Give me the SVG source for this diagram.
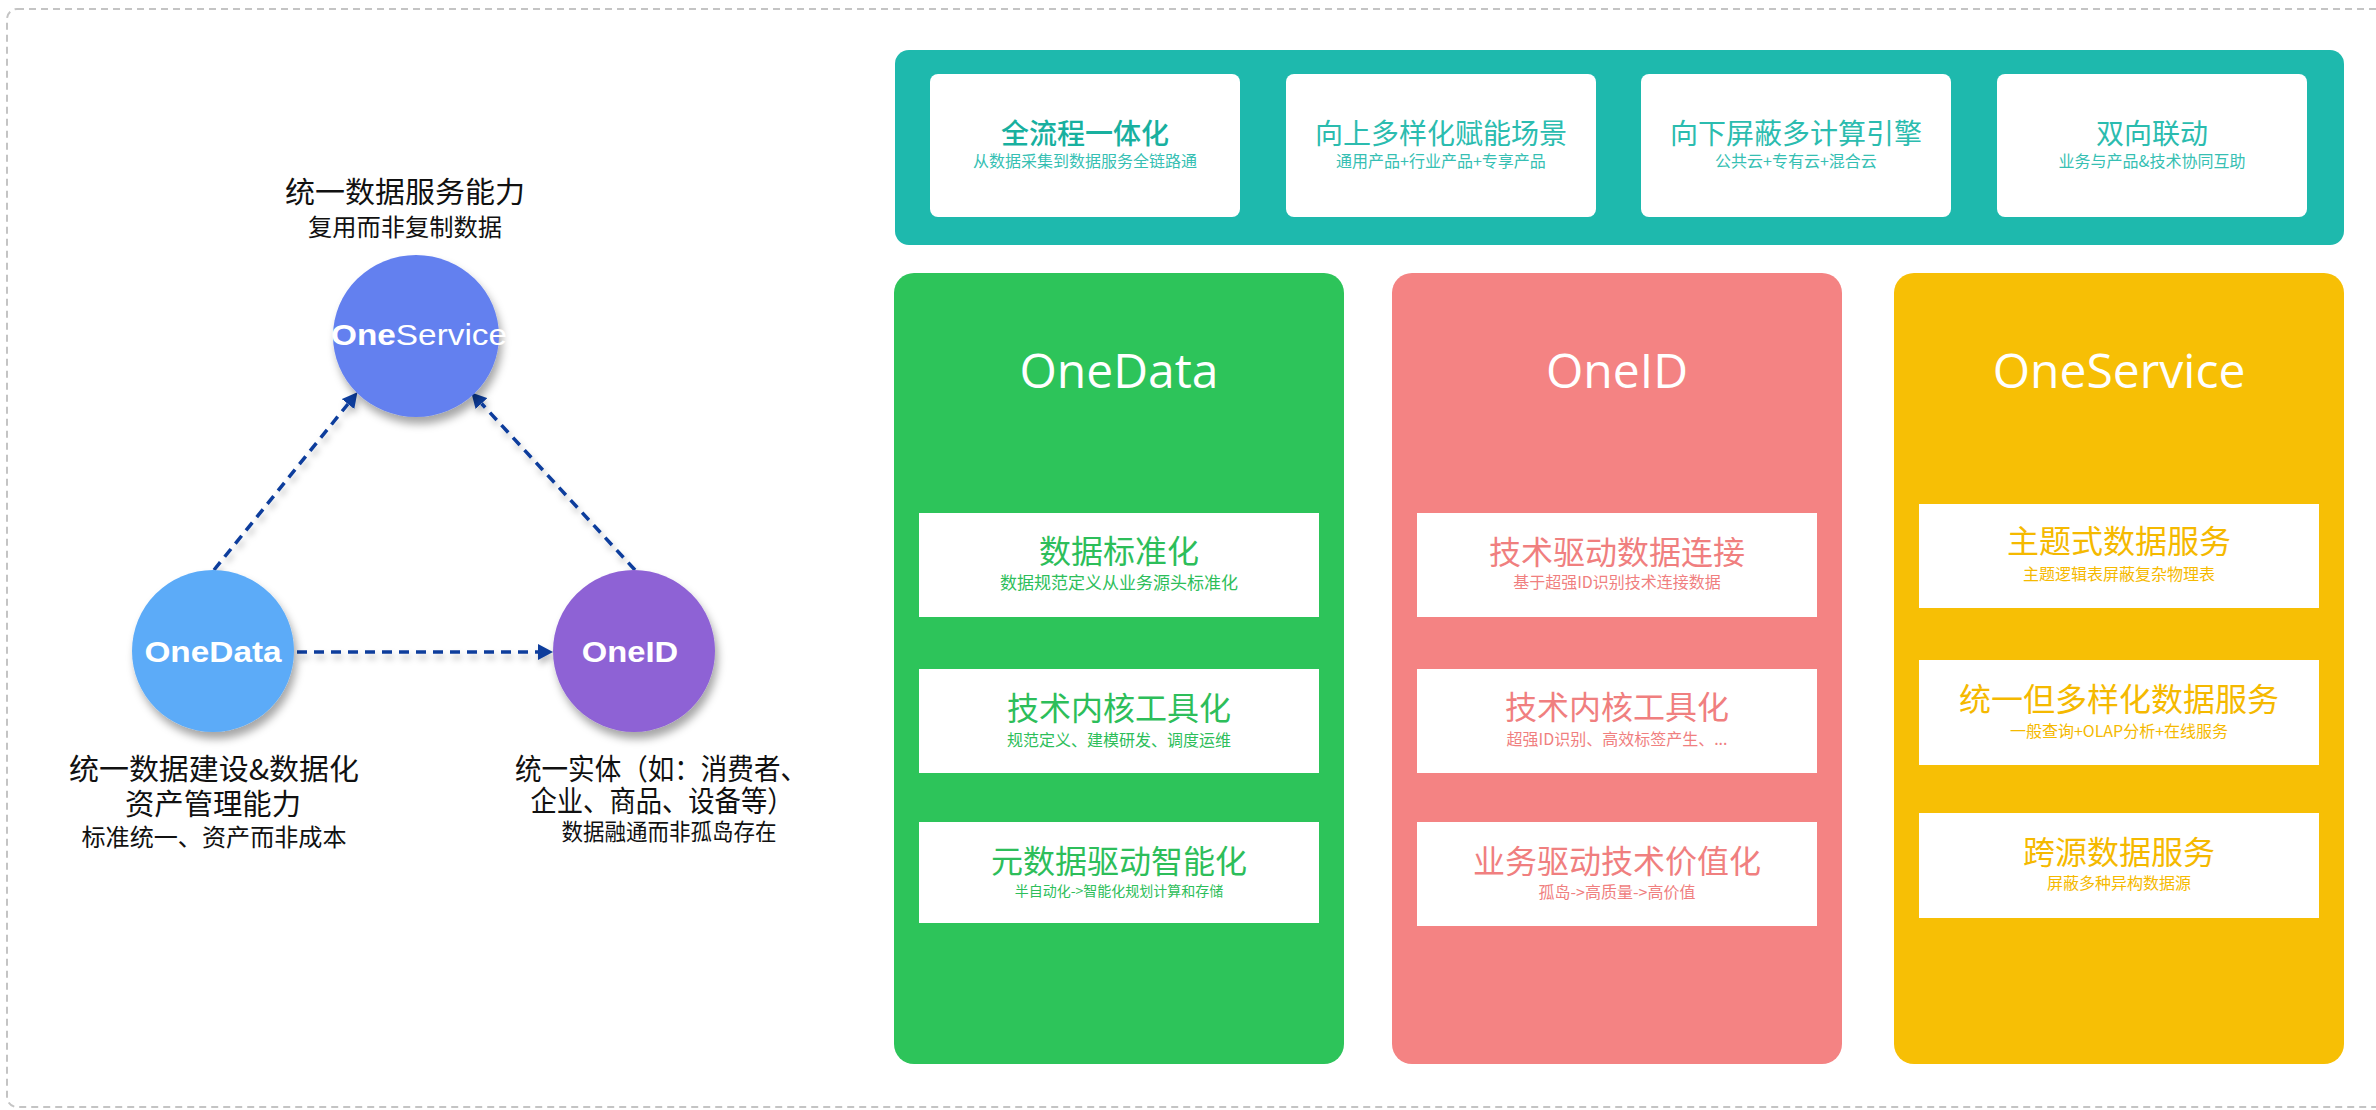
<svg xmlns="http://www.w3.org/2000/svg" width="2376" height="1110" viewBox="0 0 2376 1110">
<defs>
<style>
.lbl{font-family:"Noto Sans CJK SC","Noto Sans",sans-serif;fill:#111;text-anchor:middle;}
.ctitle{font-family:"Noto Sans CJK SC",sans-serif;font-size:28px;text-anchor:middle;fill:#2BBCAF;}
.csub{font-family:"Noto Sans CJK SC",sans-serif;font-size:16px;text-anchor:middle;fill:#36BFB3;}
.ptitle{font-family:"Open Sans","Noto Sans",sans-serif;font-size:48px;fill:#fff;text-anchor:middle;}
.btitle{font-family:"Noto Sans CJK SC",sans-serif;font-size:32px;text-anchor:middle;}
.bsub{font-family:"Noto Sans CJK SC",sans-serif;font-size:16px;text-anchor:middle;}
.g{fill:#2DBE5A;} .p{fill:#F07F7F;} .y{fill:#F5B900;}
.circ{font-family:"Liberation Sans",Arial,sans-serif;fill:#fff;text-anchor:middle;font-size:29px;}
.conn{fill:none;stroke:#0A3C9C;stroke-width:3.5;stroke-dasharray:10 7;}
</style>
<filter id="sh" x="-30%" y="-30%" width="160%" height="170%">
<feDropShadow dx="3" dy="7" stdDeviation="4" flood-color="#000" flood-opacity="0.35"/>
</filter>
<filter id="lsh" x="-20%" y="-20%" width="140%" height="140%">
<feDropShadow dx="2" dy="5" stdDeviation="3" flood-color="#000" flood-opacity="0.25"/>
</filter>
<marker id="arr" markerUnits="userSpaceOnUse" markerWidth="16" markerHeight="16" refX="0" refY="8" orient="auto">
<path d="M0,0 L15,8 L0,16 z" fill="#0A3C9C"/>
</marker>
</defs>
<rect x="0" y="0" width="2376" height="1110" fill="#fff"/>
<rect x="7" y="9" width="2392" height="1098" rx="10" fill="none" stroke="#C4C4C4" stroke-width="2" stroke-dasharray="7 5"/>

<g id="connectors" filter="url(#lsh)">
<path class="conn" d="M214,570 L348,404" marker-end="url(#arr)"/>
<path class="conn" d="M635,570 L481.5,403.5" marker-end="url(#arr)"/>
<path class="conn" d="M297,652 L538,652" marker-end="url(#arr)"/>
</g>

<g id="node-oneservice-circle">
<ellipse cx="416" cy="336" rx="83" ry="81" fill="#6480EF" filter="url(#sh)"/>
<text class="circ" transform="translate(419,345) scale(1.15,1)" font-size="25"><tspan font-weight="bold">One</tspan><tspan>Service</tspan></text>
<text class="lbl" x="405" y="203" font-size="29" textLength="240" lengthAdjust="spacingAndGlyphs">统一数据服务能力</text>
<text class="lbl" x="405" y="236" font-size="24" textLength="194" lengthAdjust="spacingAndGlyphs">复用而非复制数据</text>
</g>

<g id="node-onedata-circle">
<ellipse cx="213" cy="651" rx="81" ry="81" fill="#5CABF8" filter="url(#sh)"/>
<text class="circ" transform="translate(213,662) scale(1.15,1)" font-weight="bold">OneData</text>
<text class="lbl" x="214" y="780" font-size="29" textLength="290" lengthAdjust="spacingAndGlyphs">统一数据建设&amp;数据化</text>
<text class="lbl" x="213" y="815" font-size="29" textLength="176" lengthAdjust="spacingAndGlyphs">资产管理能力</text>
<text class="lbl" x="214" y="846" font-size="24" textLength="265" lengthAdjust="spacingAndGlyphs">标准统一、资产而非成本</text>
</g>

<g id="node-oneid-circle">
<ellipse cx="634" cy="651" rx="81" ry="81" fill="#8E62D5" filter="url(#sh)"/>
<text class="circ" transform="translate(630,662) scale(1.13,1)" font-weight="bold">OneID</text>
<text class="lbl" x="661" y="780" font-size="29" textLength="292" lengthAdjust="spacingAndGlyphs">统一实体（如：消费者、</text>
<text class="lbl" x="662" y="812" font-size="29" textLength="263" lengthAdjust="spacingAndGlyphs">企业、商品、设备等）</text>
<text class="lbl" x="669" y="840" font-size="23" textLength="215" lengthAdjust="spacingAndGlyphs">数据融通而非孤岛存在</text>
</g>

<g id="node-top-panel">
<rect x="895" y="50" width="1449" height="195" rx="14" fill="#1EB9AD"/>
<rect x="930" y="74" width="310" height="143" rx="8" fill="#fff"/>
<rect x="1286" y="74" width="310" height="143" rx="8" fill="#fff"/>
<rect x="1641" y="74" width="310" height="143" rx="8" fill="#fff"/>
<rect x="1997" y="74" width="310" height="143" rx="8" fill="#fff"/>
<text class="ctitle" x="1085" y="144" style="fill:#18B09F;font-weight:500">全流程一体化</text>
<text class="csub" x="1085" y="167">从数据采集到数据服务全链路通</text>
<text class="ctitle" x="1441" y="144">向上多样化赋能场景</text>
<text class="csub" x="1441" y="167">通用产品+行业产品+专享产品</text>
<text class="ctitle" x="1796" y="144">向下屏蔽多计算引擎</text>
<text class="csub" x="1796" y="167">公共云+专有云+混合云</text>
<text class="ctitle" x="2152" y="144">双向联动</text>
<text class="csub" x="2152" y="167">业务与产品&amp;技术协同互助</text>
</g>

<g id="node-onedata-panel">
<rect x="894" y="273" width="450" height="791" rx="20" fill="#2DC45A"/>
<text class="ptitle" x="1119" y="388">OneData</text>
<rect x="919" y="513" width="400" height="104" fill="#fff"/>
<text class="btitle g" x="1119" y="563">数据标准化</text>
<text class="bsub g" x="1119" y="589" style="font-size:17px">数据规范定义从业务源头标准化</text>
<rect x="919" y="669" width="400" height="104" fill="#fff"/>
<text class="btitle g" x="1119" y="720">技术内核工具化</text>
<text class="bsub g" x="1119" y="746">规范定义、建模研发、调度运维</text>
<rect x="919" y="822" width="400" height="101" fill="#fff"/>
<text class="btitle g" x="1119" y="873">元数据驱动智能化</text>
<text class="bsub g" x="1119" y="896" style="font-size:14px">半自动化-&gt;智能化规划计算和存储</text>
</g>

<g id="node-oneid-panel">
<rect x="1392" y="273" width="450" height="791" rx="20" fill="#F48383"/>
<text class="ptitle" x="1617" y="388">OneID</text>
<rect x="1417" y="513" width="400" height="104" fill="#fff"/>
<text class="btitle p" x="1617" y="564">技术驱动数据连接</text>
<text class="bsub p" x="1617" y="588">基于超强ID识别技术连接数据</text>
<rect x="1417" y="669" width="400" height="104" fill="#fff"/>
<text class="btitle p" x="1617" y="719">技术内核工具化</text>
<text class="bsub p" x="1617" y="745">超强ID识别、高效标签产生、...</text>
<rect x="1417" y="822" width="400" height="104" fill="#fff"/>
<text class="btitle p" x="1617" y="873">业务驱动技术价值化</text>
<text class="bsub p" x="1617" y="898">孤岛-&gt;高质量-&gt;高价值</text>
</g>

<g id="node-oneservice-panel">
<rect x="1894" y="273" width="450" height="791" rx="20" fill="#F7BF05"/>
<text class="ptitle" x="2119" y="388">OneService</text>
<rect x="1919" y="504" width="400" height="104" fill="#fff"/>
<text class="btitle y" x="2119" y="553">主题式数据服务</text>
<text class="bsub y" x="2119" y="580">主题逻辑表屏蔽复杂物理表</text>
<rect x="1919" y="660" width="400" height="105" fill="#fff"/>
<text class="btitle y" x="2119" y="711">统一但多样化数据服务</text>
<text class="bsub y" x="2119" y="737">一般查询+OLAP分析+在线服务</text>
<rect x="1919" y="813" width="400" height="105" fill="#fff"/>
<text class="btitle y" x="2119" y="864">跨源数据服务</text>
<text class="bsub y" x="2119" y="889">屏蔽多种异构数据源</text>
</g>
</svg>
